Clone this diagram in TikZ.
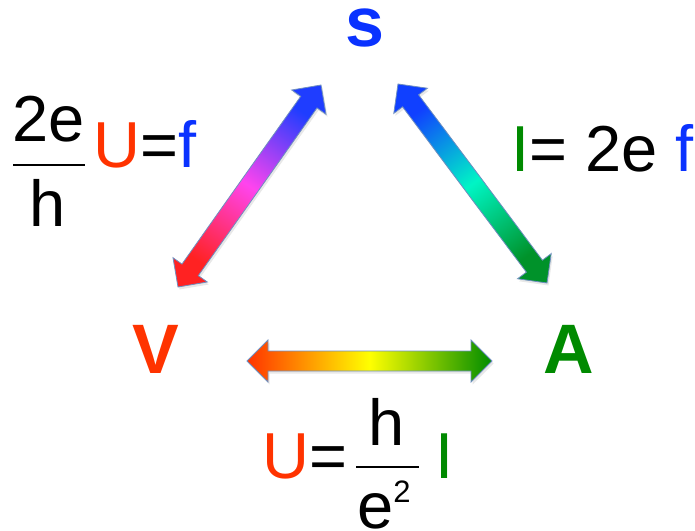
\documentclass[tikz,border=0pt]{standalone}
\usepackage{fontspec}
\setmainfont{Liberation Sans}
\usepackage{xcolor}
\usepackage{tikz}
\usetikzlibrary{positioning,calc,shadows}
\definecolor{sblue}{HTML}{0A32FF}
\definecolor{vred}{HTML}{FF3300}
\definecolor{agreen}{HTML}{008A00}
\definecolor{outline}{HTML}{6F8FC0}
\definecolor{lred}{HTML}{FF2222}
\definecolor{lmag}{HTML}{FF44EE}
\definecolor{lblue}{HTML}{1F3DFF}
\definecolor{rblue}{HTML}{1040FF}
\definecolor{raqua}{HTML}{00F5C5}
\definecolor{rgreen}{HTML}{00922A}
\definecolor{bred}{HTML}{FF3300}
\definecolor{byellow}{HTML}{FFFF00}
\definecolor{bgreen}{HTML}{008C00}
\tikzset{
    letter/.style={inner sep=0pt, font=\fontsize{70bp}{80bp}\selectfont\bfseries},
    formula/.style={inner sep=0pt, font=\fontsize{65bp}{75bp}\selectfont},
    fracbar/.style={line width=2.5bp, color=black},
    arrowbody/.style={draw=outline, line width=0.8bp, drop shadow={opacity=0.18, shadow xshift=1.5bp, shadow yshift=-2.5bp}}
}
% double headed arrow with a colour gradient: #1 and #2 are the tips
\newcommand{\gradarrow}[3]{%
  \coordinate (ha) at ($(#1)!21bp!(#2)$);
  \coordinate (hb) at ($(#2)!21bp!(#1)$);
  \shade[arrowbody, #3] (#1) -- ($(ha)!21bp!90:(#2)$) -- ($(ha)!10bp!90:(#2)$)
    -- ($(hb)!10bp!-90:(#1)$) -- ($(hb)!21bp!-90:(#1)$) -- (#2)
    -- ($(hb)!21bp!90:(#1)$) -- ($(hb)!10bp!90:(#1)$)
    -- ($(ha)!10bp!-90:(#2)$) -- ($(ha)!21bp!-90:(#2)$) -- cycle;
}
\begin{document}
\begin{tikzpicture}[x=1bp, y=-1bp]
\useasboundingbox (0,0) rectangle (695,531);
\node[letter, text=sblue, anchor=base] (s) at (365,47) {s};
\node[letter, text=vred, anchor=base] (v) at (156,373) {V};
\node[letter, text=agreen, anchor=base] (a) at (569,373) {A};
% arrow tips
\coordinate (vs) at (178,287);
\coordinate (sv) at (321,85);
\coordinate (sa) at (398,84);
\coordinate (as) at (547,283);
\coordinate (va) at (247,361);
\coordinate (av) at (492,361);
\gradarrow{vs}{sv}{left color=lred, right color=lblue, middle color=lmag, shading angle=145}
\gradarrow{sa}{as}{left color=rblue, right color=rgreen, middle color=raqua, shading angle=37}
\gradarrow{va}{av}{left color=bred, right color=bgreen, middle color=byellow, shading angle=90}
% 2e/h U=f
\node[formula, anchor=base] (jnum) at (49,142) {2e};
\node[formula, anchor=base] (jden) at (48,227) {h};
\draw[fracbar] (13,165) -- (85,165);
\node[formula, anchor=base west] (jrest) at (93,168) {\textcolor{vred}{U}=\textcolor{sblue}{f}};
% I = 2e f
\node[formula, anchor=base west] (pump) at (511,172) {\textcolor{agreen}{I}= 2e \textcolor{sblue}{f}};
% U = h/e^2 I
\node[formula, anchor=base west] (qu) at (262,478) {\textcolor{vred}{U}=};
\node[formula, anchor=base] (qnum) at (387,445) {h};
\node[formula, anchor=base west] (qden) at (357,528) {e\raisebox{26bp}{\fontsize{31bp}{31bp}\selectfont 2}};
\draw[fracbar] (356,467) -- (419,467);
\node[formula, anchor=base west] (qi) at (435,478) {\textcolor{agreen}{I}};
\end{tikzpicture}
\end{document}
